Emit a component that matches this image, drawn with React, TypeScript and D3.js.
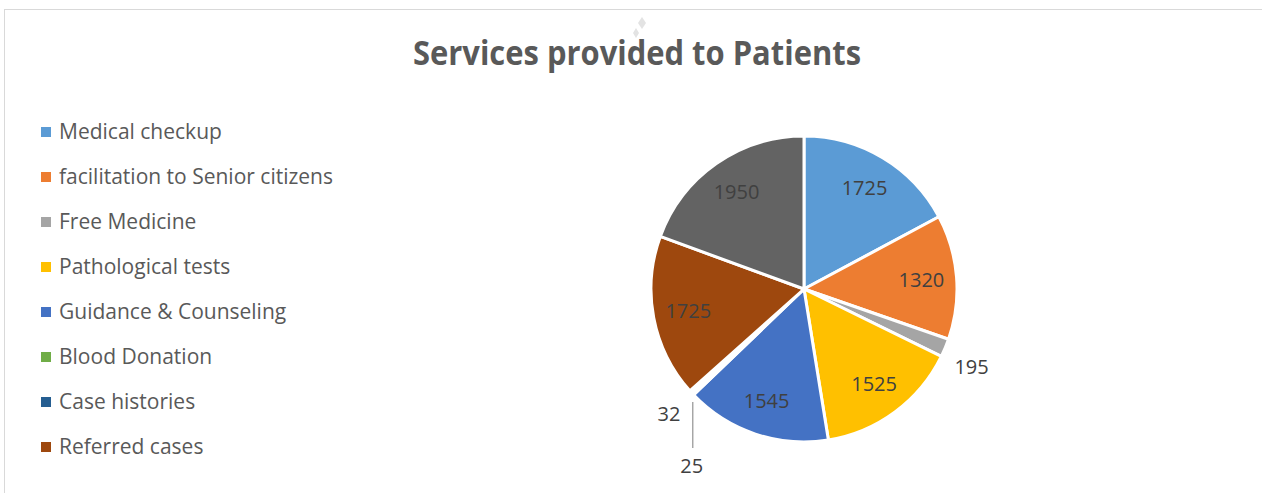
import * as d3 from "d3";

const categories = [
  "Medical checkup",
  "facilitation to Senior citizens",
  "Free Medicine",
  "Pathological tests",
  "Guidance & Counseling",
  "Blood Donation",
  "Case histories",
  "Referred cases",
  "Other services",
];
const values = [1725, 1320, 195, 1525, 1545, 25, 32, 1725, 1950];
const colors = [
  "#5B9BD5", "#ED7D31", "#A5A5A5", "#FFC000", "#4472C4",
  "#70AD47", "#255E91", "#9E480E", "#636363",
];
// only the first eight legend entries fit inside the chart frame
const legendCount = 8;
const title = "Services provided to Patients";

const width = 1262;
const height = 493;
const cx = 804;
const cy = 289;
const R = 153;

export default function App() {
  const pie = d3.pie<number>().sort(null).value((d) => d);
  const arcs = pie(values);
  const arc = d3.arc<d3.PieArcDatum<number>>().innerRadius(0).outerRadius(R);
  const labelArc = d3.arc<d3.PieArcDatum<number>>().innerRadius(R * 0.77).outerRadius(R * 0.77);
  const outerArc = d3.arc<d3.PieArcDatum<number>>().innerRadius(R + 10).outerRadius(R + 10);
  const edgeArc = d3.arc<d3.PieArcDatum<number>>().innerRadius(R).outerRadius(R);

  // slices too thin to hold their label
  const isSmall = (a: d3.PieArcDatum<number>) => a.endAngle - a.startAngle < 0.2;

  const legendY = d3.scalePoint<number>()
    .domain(d3.range(legendCount))
    .range([132, 447]);

  const labels = arcs.map((a, i) => {
    const txt = String(a.data);
    if (!isSmall(a)) {
      const [x, y] = labelArc.centroid(a);
      return <text key={i} x={cx + x} y={cy + y} dy="0.35em" textAnchor="middle"
        fontSize={20} fill="#404040">{txt}</text>;
    }
    const next = arcs[i + 1];
    if (next && isSmall(next)) {
      // leader line straight down
      const [ex, ey] = edgeArc.centroid(a);
      const px = cx + ex, py = cy + ey;
      return (
        <g key={i}>
          <line x1={px} x2={px} y1={py + 8} y2={py + 54} stroke="#a6a6a6" strokeWidth={1.5} />
          <text x={px - 1} y={py + 72} dy="0.35em" textAnchor="middle" fontSize={20} fill="#404040">{txt}</text>
        </g>
      );
    }
    const [ox, oy] = outerArc.centroid(a);
    const mid = (a.startAngle + a.endAngle) / 2;
    const right = Math.sin(mid) >= 0;
    const below = -Math.cos(mid) >= 0;
    return <text key={i} x={cx + ox + (right ? 0 : -3)} y={cy + oy + (below ? 15 : -15)} dy="0.35em"
      textAnchor={right ? "start" : "end"} fontSize={20} fill="#404040">{txt}</text>;
  });

  return (
    <svg width={width} height={height} style={{ position: "absolute", left: 0, top: 0, background: "#fff" }}
      fontFamily="'Open Sans', sans-serif">
      <rect x={4.5} y={9.5} width={width + 20} height={height + 20} fill="#fff" stroke="#d9d9d9" strokeWidth={1} />
      {/* watermark */}
      <path d="M642,17 L646,23 L642,29 L638,23 Z" fill="#e3e3e3" />
      <path d="M636,28 L639,33 L636,38 L633,33 Z" fill="#e3e3e3" />
      <text x={637} y={65} textAnchor="middle" fontSize={34} fontWeight="bold" fill="#595959"
        textLength={448} lengthAdjust="spacingAndGlyphs"
        fontFamily="'Open Sans', sans-serif">{title}</text>

      <g>
        {categories.slice(0, legendCount).map((c, i) => (
          <g key={c} transform={`translate(0,${legendY(i)})`}>
            <rect x={41} y={-5} width={10} height={10} fill={colors[i]} />
            <text x={59} y={0} dy="0.35em" fontSize={21} fill="#595959">{c}</text>
          </g>
        ))}
      </g>

      <g transform={`translate(${cx},${cy})`}>
        {arcs.map((a, i) => (
          <path key={i} d={arc(a) ?? ""} fill={colors[i]} stroke="#fff" strokeWidth={3} strokeLinejoin="round" />
        ))}
      </g>
      {labels}
    </svg>
  );
}
